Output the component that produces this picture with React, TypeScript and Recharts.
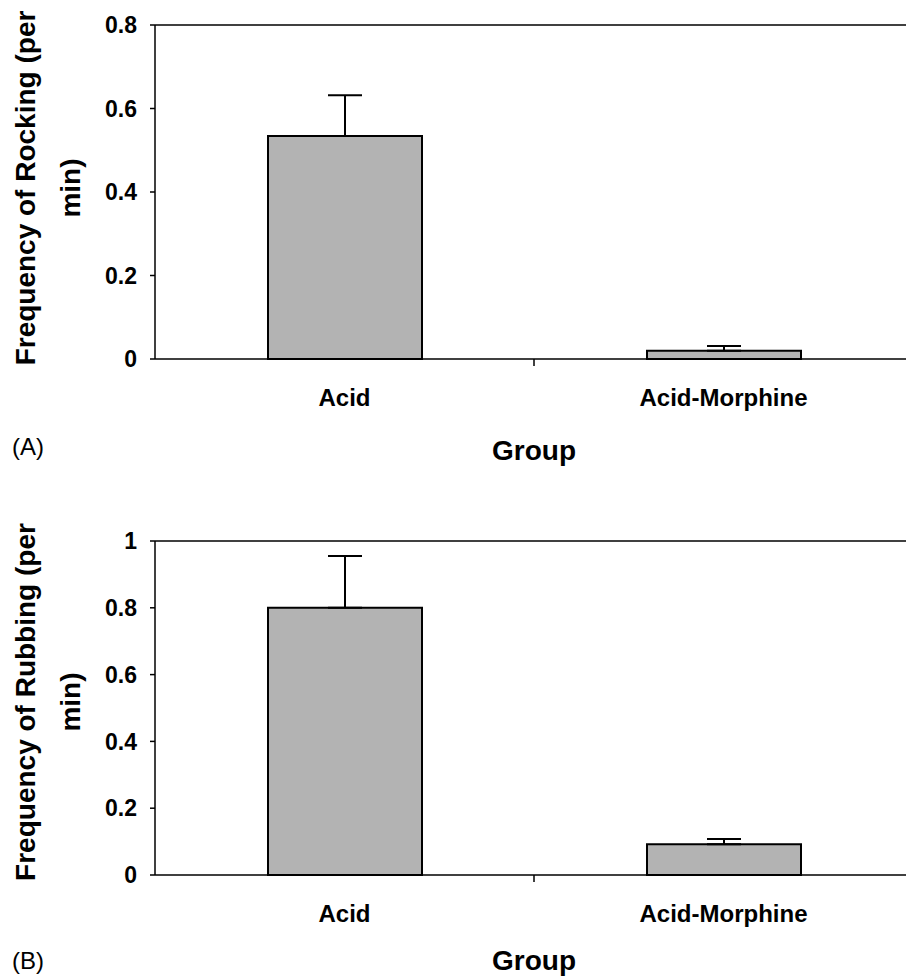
import { Bar, BarChart, ErrorBar, ReferenceLine, XAxis, YAxis } from 'recharts';

const groups = ['Acid', 'Acid-Morphine'];

const rockingMean = [0.534, 0.02];
const rockingErr = [0.098, 0.011];
const rockingTicks = [0, 0.2, 0.4, 0.6, 0.8];

const rubbingMean = [0.8, 0.092];
const rubbingErr = [0.155, 0.016];
const rubbingTicks = [0, 0.2, 0.4, 0.6, 0.8, 1];

const font = '"Liberation Sans", Arial, sans-serif';

const rockingData = groups.map((g, i) => ({ group: g, value: rockingMean[i], err: [0, rockingErr[i]] }));
const rubbingData = groups.map((g, i) => ({ group: g, value: rubbingMean[i], err: [0, rubbingErr[i]] }));

function CategoryTick(props: any) {
  const { x, y, payload, index, visibleTicksCount } = props;
  const half = payload?.offset ?? 0;
  return (
    <g>
      {index < visibleTicksCount - 1 && half > 0 && (
        <line x1={x + half} x2={x + half} y1={y - 7} y2={y} stroke="#000" strokeWidth={1.5} />
      )}
      <text x={x} y={y + 40} textAnchor="middle" fontFamily={font} fontWeight="bold" fontSize={24} fill="#000">
        {payload.value}
      </text>
    </g>
  );
}

function yLabel(line1: string, line2: string, shift: number) {
  return ({ viewBox }: any) => {
    const cy = viewBox.y + viewBox.height / 2 + shift;
    return (
      <g fontFamily={font} fontWeight="bold" fontSize={28} fill="#000">
        <text x={35} y={cy} textAnchor="middle" transform={`rotate(-90, 35, ${cy})`}>{line1}</text>
        <text x={80} y={cy} textAnchor="middle" transform={`rotate(-90, 80, ${cy})`}>{line2}</text>
      </g>
    );
  };
}

function xLabel(panel: string, dy: number, panelDy: number) {
  return ({ viewBox }: any) => (
    <g fill="#000" fontFamily={font}>
      <text x={viewBox.x + viewBox.width / 2} y={viewBox.y + dy} textAnchor="middle" fontWeight="bold" fontSize={28}>
        Group
      </text>
      <text x={12} y={viewBox.y + panelDy} fontSize={24}>{panel}</text>
    </g>
  );
}

function Panel({ data, ticks, max, height, top, xHeight, label1, label2, panel, groupDy, panelDy, yShift }: any) {
  return (
    <BarChart width={920} height={height} data={data} margin={{ top, right: 7, bottom: 0, left: 0 }} barSize={154}>
      <ReferenceLine y={max} stroke="#000" strokeWidth={1.5} />
      <XAxis
        dataKey="group"
        height={xHeight}
        axisLine={{ stroke: '#000', strokeWidth: 1.5 }}
        tickLine={false}
        tickSize={7}
        tickMargin={0}
        tick={<CategoryTick />}
        interval={0}
        label={{ content: xLabel(panel, groupDy, panelDy) }}
      />
      <YAxis
        width={155}
        domain={[0, max]}
        ticks={ticks}
        axisLine={{ stroke: '#000', strokeWidth: 1.5 }}
        tickLine={{ stroke: '#000', strokeWidth: 1.5 }}
        tickSize={5}
        tickMargin={13}
        tick={{ fill: '#000', fontSize: 23, fontWeight: 'bold', fontFamily: font }}
        label={{ content: yLabel(label1, label2, yShift) }}
      />
      <Bar dataKey="value" fill="#b3b3b3" stroke="#000" strokeWidth={2} isAnimationActive={false}>
        <ErrorBar dataKey="err" width={17} stroke="#000" strokeWidth={2} direction="y" isAnimationActive={false} />
      </Bar>
    </BarChart>
  );
}

export default function App() {
  return (
    <div style={{ position: 'absolute', left: 0, top: 0, width: 906, height: 979, overflow: 'hidden', background: '#fff' }}>
      <div style={{ position: 'absolute', left: 0, top: 0 }}>
        <Panel
          data={rockingData}
          ticks={rockingTicks}
          max={0.8}
          height={480}
          top={25}
          xHeight={121}
          label1="Frequency of Rocking (per"
          label2="min)"
          panel="(A)"
          groupDy={101}
          panelDy={96}
          yShift={-4}
        />
      </div>
      <div style={{ position: 'absolute', left: 0, top: 480 }}>
        <Panel
          data={rubbingData}
          ticks={rubbingTicks}
          max={1}
          height={499}
          top={61}
          xHeight={104}
          label1="Frequency of Rubbing (per"
          label2="min)"
          panel="(B)"
          groupDy={95}
          panelDy={94}
          yShift={-6}
        />
      </div>
    </div>
  );
}
